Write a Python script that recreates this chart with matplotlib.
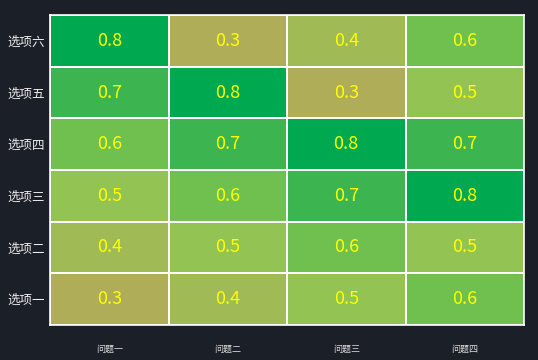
import matplotlib.pyplot as plt
import numpy as np
from matplotlib.colors import LinearSegmentedColormap

plt.rcParams["font.family"] = ["Noto Sans CJK SC", "DejaVu Sans"]

questions = ["问题一", "问题二", "问题三", "问题四"]
options = ["选项一", "选项二", "选项三", "选项四", "选项五", "选项六"]
values = np.array([
    [0.3, 0.4, 0.5, 0.6],
    [0.4, 0.5, 0.6, 0.5],
    [0.5, 0.6, 0.7, 0.8],
    [0.6, 0.7, 0.8, 0.7],
    [0.7, 0.8, 0.3, 0.5],
    [0.8, 0.3, 0.4, 0.6],
])

bg = "#1b1f27"
cmap = LinearSegmentedColormap.from_list("heat", [
    (0.0, "#afad57"),
    (0.2, "#a0ba55"),
    (0.4, "#93c352"),
    (0.6, "#6fc04f"),
    (0.8, "#3cb550"),
    (1.0, "#00a84f"),
])

fig = plt.figure(figsize=(5.38, 3.6), dpi=100, facecolor=bg)
ax = fig.add_axes([50 / 538, 35 / 360, 474 / 538, 310 / 360])
ax.set_facecolor(bg)

ax.pcolormesh(values, cmap=cmap, vmin=0.3, vmax=0.8,
              edgecolor="white", linewidth=1.2)

for i in range(values.shape[0]):
    for j in range(values.shape[1]):
        ax.text(j + 0.5, i + 0.5, "{:.1f}".format(values[i, j]),
                ha="center", va="center", color="#ffff00", fontsize=13)

ax.set_xlim(0, 4)
ax.set_ylim(0, 6)
ax.set_xticks(np.arange(4) + 0.5)
ax.set_xticklabels(questions, fontsize=6.5, color="#dddddd")
ax.set_yticks(np.arange(6) + 0.5)
ax.set_yticklabels(options, fontsize=9, color="#eeeeee")
ax.tick_params(length=0)
ax.tick_params(axis="x", pad=14)
ax.tick_params(axis="y", pad=4)
for s in ax.spines.values():
    s.set_color("white")
    s.set_linewidth(1.2)

fig.savefig("out.png", dpi=100, facecolor=bg)
